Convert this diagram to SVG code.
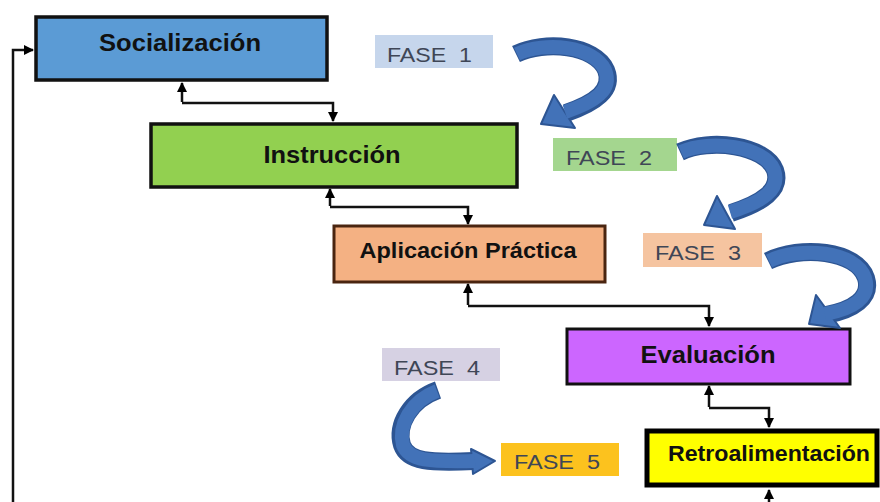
<svg xmlns="http://www.w3.org/2000/svg" width="880" height="502" viewBox="0 0 880 502">
<defs>
<marker id="ah" viewBox="0 0 10 10" refX="9" refY="5" markerWidth="4" markerHeight="4" orient="auto-start-reverse" markerUnits="strokeWidth">
<path d="M0,0 L10,5 L0,10 z" fill="#000"/>
</marker>
</defs>
<style>
.lbl{font-family:"Liberation Sans",Arial,sans-serif;font-weight:bold;fill:#111;text-anchor:middle}
.fase{font-family:"Liberation Sans",Arial,sans-serif;font-size:20px;fill:#3f4656}
.conn{fill:none;stroke:#111;stroke-width:2.5}
.cs1{fill:none;stroke:#2d5593;stroke-width:18;stroke-linecap:butt}
.cs2{fill:none;stroke:#4272b8;stroke-width:14;stroke-linecap:butt}
.ch{fill:#4272b8;stroke:#2d5593;stroke-width:2;stroke-linejoin:round}
</style>
<rect width="880" height="502" fill="#fff"/>

<g id="connectors">
<path class="conn" d="M182,102 V83" marker-end="url(#ah)"/>
<path class="conn" d="M182,103 H333 V121" marker-end="url(#ah)"/>
<path class="conn" d="M330,206 V189" marker-end="url(#ah)"/>
<path class="conn" d="M330,207 H468 V224" marker-end="url(#ah)"/>
<path class="conn" d="M468,305 V284" marker-end="url(#ah)"/>
<path class="conn" d="M468,306 H709 V326" marker-end="url(#ah)"/>
<path class="conn" d="M709,407 V386" marker-end="url(#ah)"/>
<path class="conn" d="M709,408 H769 V427" marker-end="url(#ah)"/>
<path class="conn" d="M769,502 V490" marker-end="url(#ah)"/>
<path class="conn" d="M13,502 V50 H33" stroke-width="3" marker-end="url(#ah)"/>
</g>

<g id="socializacion">
<rect x="36" y="17" width="291" height="63" fill="#5b9bd5" stroke="#111" stroke-width="3.5"/>
<text class="lbl" x="180" y="51" font-size="23" textLength="162" lengthAdjust="spacingAndGlyphs">Socialización</text>
</g>
<g id="instruccion">
<rect x="151" y="124" width="366" height="63" fill="#92d050" stroke="#111" stroke-width="3.5"/>
<text class="lbl" x="332" y="163" font-size="23" textLength="137" lengthAdjust="spacingAndGlyphs">Instrucción</text>
</g>
<g id="aplicacion">
<rect x="334" y="226" width="271" height="56" fill="#f4b183" stroke="#4a2510" stroke-width="3"/>
<text class="lbl" x="468" y="258" font-size="22" textLength="217" lengthAdjust="spacingAndGlyphs">Aplicación Práctica</text>
</g>
<g id="evaluacion">
<rect x="567" y="329" width="283" height="55" fill="#cc66ff" stroke="#111" stroke-width="3"/>
<text class="lbl" x="708" y="363" font-size="23" textLength="135" lengthAdjust="spacingAndGlyphs">Evaluación</text>
</g>
<g id="retroalimentacion">
<rect x="647" y="431" width="230" height="54" fill="#ffff00" stroke="#000" stroke-width="5"/>
<text class="lbl" x="769" y="461" font-size="22" textLength="202" lengthAdjust="spacingAndGlyphs">Retroalimentación</text>
</g>

<g id="fase1">
<rect x="375" y="35" width="118" height="33" fill="#c6d6ec"/>
<text class="fase" x="387" y="62" textLength="85" lengthAdjust="spacingAndGlyphs" xml:space="preserve">FASE  1</text>
</g>
<g id="fase2">
<rect x="553" y="138" width="124" height="33" fill="#a4d68f"/>
<text class="fase" x="566" y="165" textLength="86" lengthAdjust="spacingAndGlyphs" xml:space="preserve">FASE  2</text>
</g>
<g id="fase3">
<rect x="643" y="233" width="119" height="34" fill="#f5c4a0"/>
<text class="fase" x="655" y="260" textLength="86" lengthAdjust="spacingAndGlyphs" xml:space="preserve">FASE  3</text>
</g>
<g id="fase4">
<rect x="382" y="348" width="118" height="33" fill="#d6d1e3"/>
<text class="fase" x="394" y="375" textLength="86" lengthAdjust="spacingAndGlyphs" xml:space="preserve">FASE  4</text>
</g>
<g id="fase5">
<rect x="501" y="443" width="118" height="33" fill="#fcc21e"/>
<text class="fase" x="514" y="469" textLength="86" lengthAdjust="spacingAndGlyphs" xml:space="preserve">FASE  5</text>
</g>

<g id="curve1">
<path class="cs1" d="M516,54 C545,40 595,45 606,70 C614,90 595,103 566,113"/>
<polygon class="ch" points="541,124 554,95 575,128"/>
<path class="cs2" d="M517,54 C545,41 594,46 605,70 C613,90 595,102 565,112"/>
</g>
<g id="curve2">
<path class="cs1" d="M680,152 C710,138 765,145 775,170 C782,190 762,203 731,213"/>
<polygon class="ch" points="704,225 717,196 735,229"/>
<path class="cs2" d="M681,152 C710,139 764,146 774,170 C781,190 762,202 730,212"/>
</g>
<g id="curve3">
<path class="cs1" d="M768,261 C800,245 857,250 866,278 C872,298 853,310 826,315"/>
<polygon class="ch" points="809,324 816,295 840,328"/>
<path class="cs2" d="M769,261 C800,246 856,251 865,278 C871,298 853,309 825,314"/>
</g>
<g id="curve4">
<path class="cs1" d="M438,390 C410,400 396,425 402,445 C408,462 430,463 474,461"/>
<polygon class="ch" points="495,461 471,449 473,474"/>
<path class="cs2" d="M437,391 C411,401 398,425 403,445 C409,461 430,462 475,461"/>
</g>
</svg>
